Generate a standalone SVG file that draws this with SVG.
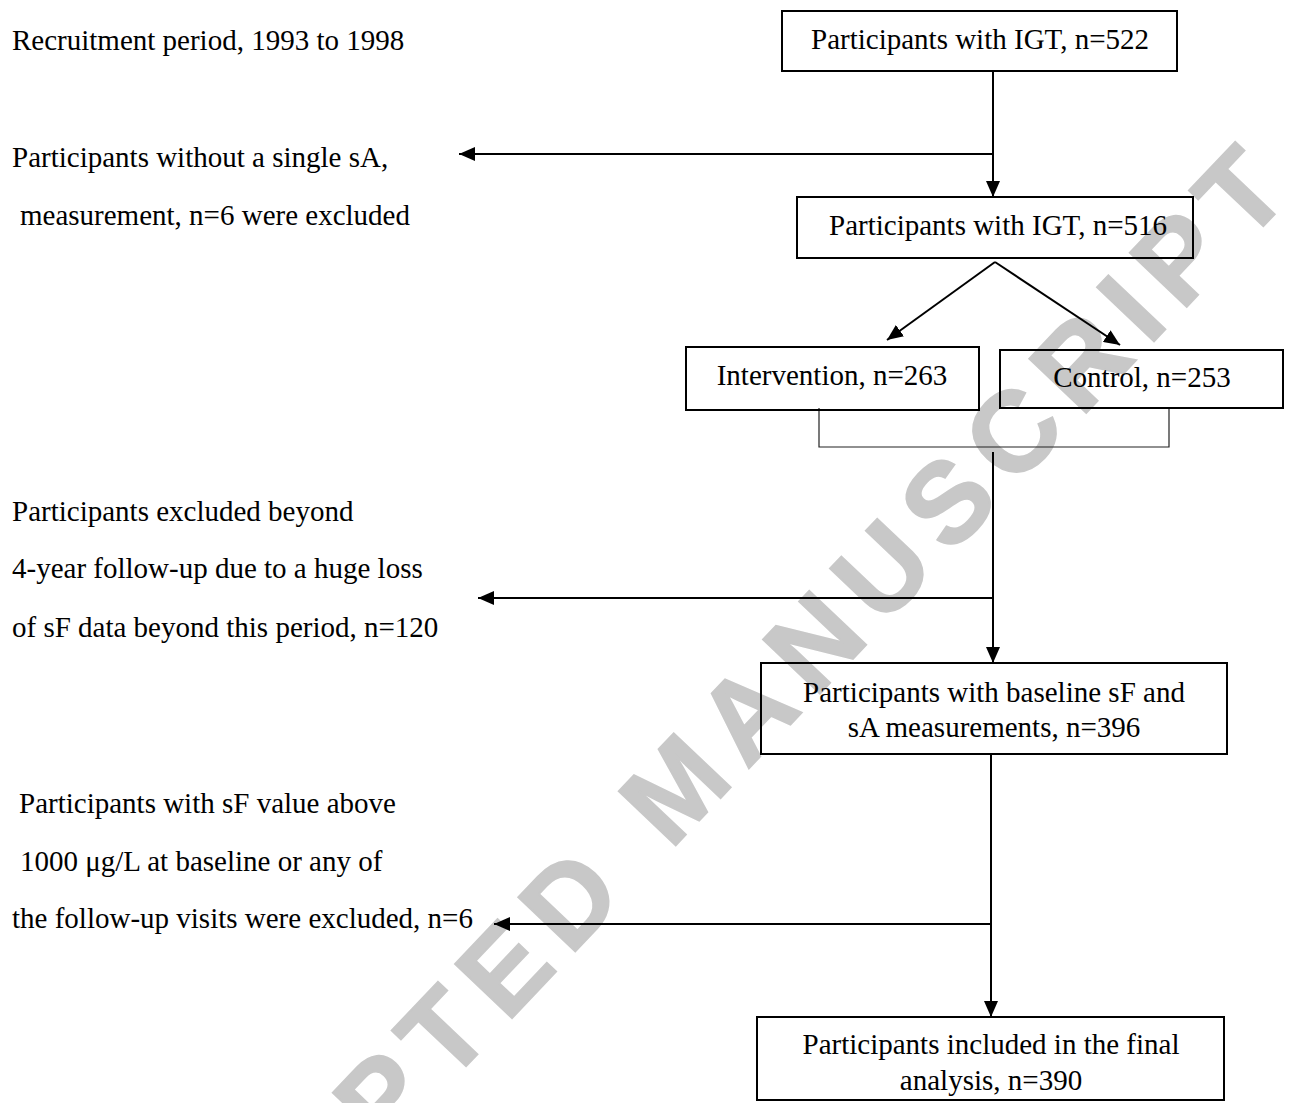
<svg xmlns="http://www.w3.org/2000/svg" width="1290" height="1103" viewBox="0 0 1290 1103">
<style>
.t{font-family:"Liberation Serif","Times New Roman",serif;font-size:29px;fill:#000}
.c{text-anchor:middle}
.box{fill:none;stroke:#000;stroke-width:2}
.ln{fill:none;stroke:#000;stroke-width:2}
.thin{fill:none;stroke:#222;stroke-width:1.2}
.wm{font-family:"Liberation Sans",Arial,sans-serif;font-weight:bold;font-size:114px;letter-spacing:16px;fill:#c8c8c8;stroke:#c8c8c8;stroke-width:2;stroke-linejoin:miter}
</style>
<defs>
<marker id="ah" markerUnits="userSpaceOnUse" markerWidth="17" markerHeight="14" refX="16" refY="7" orient="auto">
<path d="M0,0 L16,7 L0,14 Z" fill="#000"/>
</marker>
</defs>
<rect width="1290" height="1103" fill="#fff"/>
<text class="wm" transform="translate(118,1433) rotate(-46.5)">ACCEPTED MANUSCRIPT</text>

<g id="connectors">
<line class="ln" x1="993" y1="71" x2="993" y2="197" marker-end="url(#ah)"/>
<line class="ln" x1="993" y1="154" x2="459" y2="154" marker-end="url(#ah)"/>
<line class="ln" x1="995" y1="262" x2="887" y2="340" marker-end="url(#ah)"/>
<line class="ln" x1="995" y1="262" x2="1120" y2="345" marker-end="url(#ah)"/>
<polyline class="thin" points="819,408 819,447 1169,447 1169,408"/>
<line class="ln" x1="993" y1="452" x2="993" y2="663" marker-end="url(#ah)"/>
<line class="ln" x1="993" y1="598" x2="478" y2="598" marker-end="url(#ah)"/>
<line class="ln" x1="991" y1="754" x2="991" y2="1017" marker-end="url(#ah)"/>
<line class="ln" x1="991" y1="924" x2="494" y2="924" marker-end="url(#ah)"/>
</g>

<g id="n522">
<rect class="box" x="782" y="11" width="395" height="60"/>
<text class="t c" x="980" y="49">Participants with IGT, n=522</text>
</g>
<g id="n516">
<rect class="box" x="797" y="197" width="396" height="61"/>
<text class="t c" x="998" y="235">Participants with IGT, n=516</text>
</g>
<g id="intervention">
<rect class="box" x="686" y="347" width="293" height="63"/>
<text class="t c" x="832" y="385">Intervention, n=263</text>
</g>
<g id="control">
<rect class="box" x="1000" y="350" width="283" height="58"/>
<text class="t c" x="1142" y="387">Control, n=253</text>
</g>
<g id="baseline">
<rect class="box" x="761" y="663" width="466" height="91"/>
<text class="t c" x="994" y="702">Participants with baseline sF and</text>
<text class="t c" x="994" y="737">sA measurements, n=396</text>
</g>
<g id="final">
<rect class="box" x="757" y="1017" width="467" height="83"/>
<text class="t c" x="991" y="1054">Participants included in the final</text>
<text class="t c" x="991" y="1090">analysis, n=390</text>
</g>

<g id="recruitment">
<text class="t" x="12" y="50">Recruitment period, 1993 to 1998</text>
</g>
<g id="excl-sA">
<text class="t" x="12" y="167">Participants without a single sA,</text>
<text class="t" x="20" y="225">measurement, n=6 were excluded</text>
</g>
<g id="excl-4yr">
<text class="t" x="12" y="521">Participants excluded beyond</text>
<text class="t" x="12" y="578">4-year follow-up due to a huge loss</text>
<text class="t" x="12" y="637">of sF data beyond this period, n=120</text>
</g>
<g id="excl-sF">
<text class="t" x="19" y="813">Participants with sF value above</text>
<text class="t" x="20" y="871">1000 μg/L at baseline or any of</text>
<text class="t" x="12" y="928">the follow-up visits were excluded, n=6</text>
</g>
</svg>
